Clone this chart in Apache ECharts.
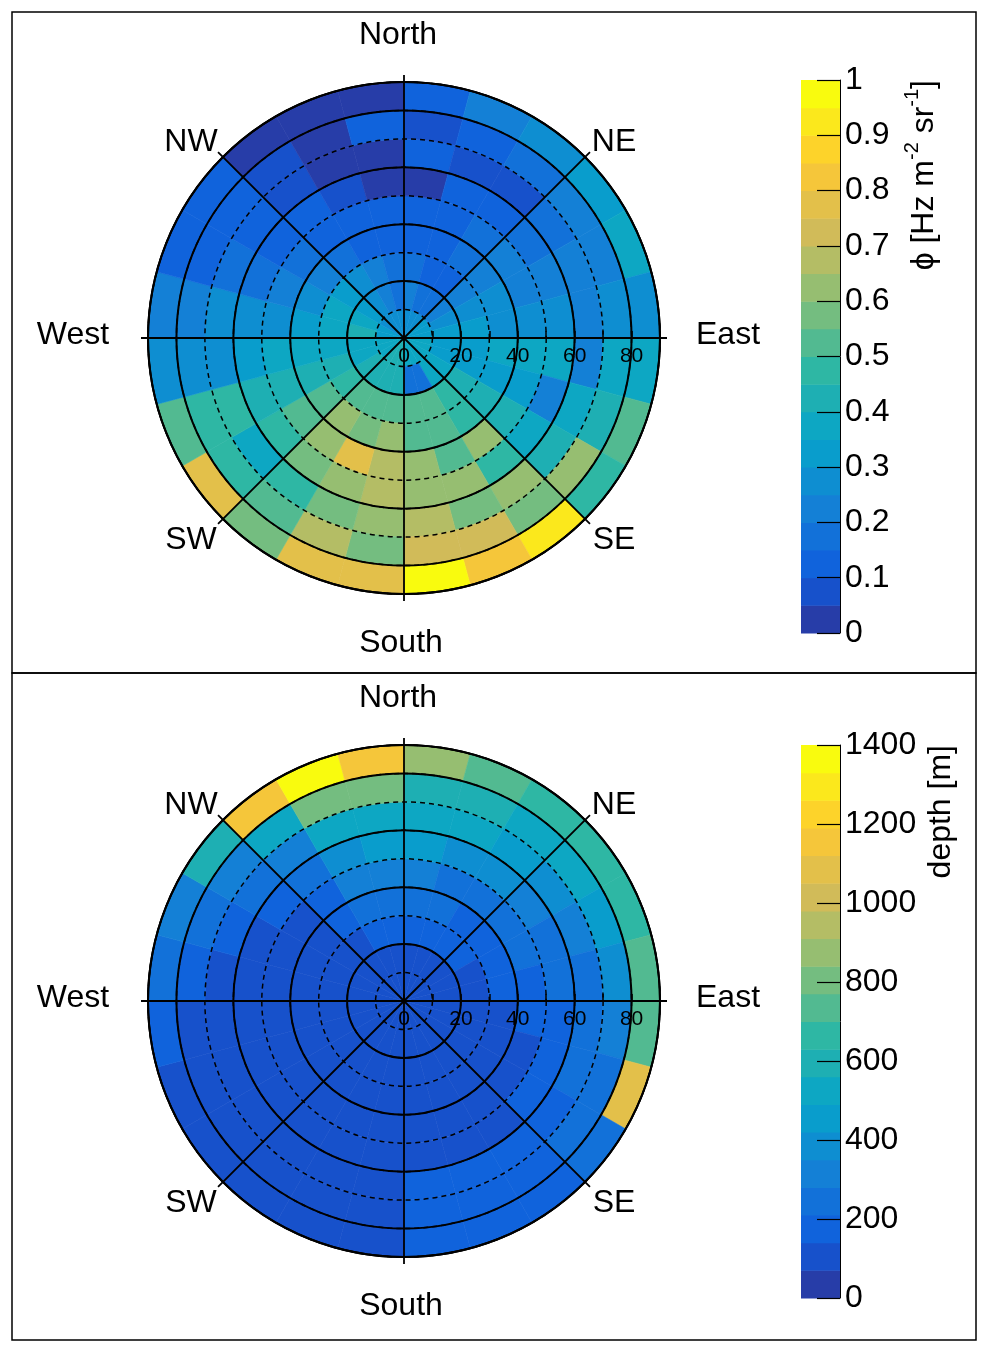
<!DOCTYPE html>
<html>
<head>
<meta charset="utf-8">
<title>Flux and depth polar maps</title>
<script src="https://cdn.jsdelivr.net/npm/echarts@6/dist/echarts.min.js"></script>
<style>
  html, body { margin: 0; padding: 0; background: #fff; }
  #chart { width: 988px; height: 1352px; }
</style>
</head>
<body>
<div id="chart"></div>
<script>
// zenith bins (lower edge, deg) and azimuth bins (15 deg, clockwise from North)
const zenithBins = [0, 10, 20, 30, 40, 50, 60, 70, 80]
const azimuthBins = ['0', '15', '30', '45', '60', '75', '90', '105', '120', '135', '150', '165',
  '180', '195', '210', '225', '240', '255', '270', '285', '300', '315', '330', '345']

// muon flux [Hz m-2 sr-1], one row per zenith bin, 24 azimuth bins each
const flux = [
  [0.27, 0.28, 0.27, 0.31, 0.32, 0.33, 0.36, 0.37, 0.38, 0.37, 0.36, 0.37, 0.41, 0.42, 0.41, 0.38, 0.37, 0.36, 0.32, 0.31, 0.28, 0.27, 0.26, 0.27],
  [0.22, 0.17, 0.18, 0.22, 0.27, 0.32, 0.33, 0.31, 0.37, 0.38, 0.16, 0.17, 0.42, 0.43, 0.41, 0.42, 0.37, 0.38, 0.41, 0.37, 0.32, 0.27, 0.22, 0.18],
  [0.17, 0.12, 0.13, 0.22, 0.27, 0.31, 0.32, 0.33, 0.42, 0.47, 0.52, 0.53, 0.52, 0.51, 0.52, 0.47, 0.42, 0.37, 0.38, 0.36, 0.32, 0.27, 0.23, 0.17],
  [0.12, 0.13, 0.17, 0.22, 0.27, 0.28, 0.37, 0.32, 0.42, 0.47, 0.52, 0.51, 0.62, 0.57, 0.61, 0.52, 0.42, 0.37, 0.32, 0.27, 0.22, 0.17, 0.13, 0.12],
  [0.12, 0.11, 0.17, 0.22, 0.23, 0.27, 0.37, 0.32, 0.42, 0.62, 0.52, 0.61, 0.67, 0.77, 0.62, 0.52, 0.42, 0.37, 0.27, 0.22, 0.17, 0.12, 0.11, 0.13],
  [0.04, 0.12, 0.13, 0.17, 0.22, 0.27, 0.37, 0.22, 0.38, 0.47, 0.62, 0.63, 0.67, 0.62, 0.57, 0.47, 0.42, 0.32, 0.27, 0.17, 0.12, 0.11, 0.08, 0.03],
  [0.12, 0.08, 0.07, 0.17, 0.22, 0.23, 0.22, 0.37, 0.42, 0.62, 0.57, 0.67, 0.62, 0.57, 0.47, 0.37, 0.47, 0.27, 0.27, 0.17, 0.12, 0.08, 0.03, 0.04],
  [0.08, 0.12, 0.17, 0.22, 0.21, 0.27, 0.37, 0.42, 0.62, 0.57, 0.74, 0.72, 0.57, 0.67, 0.52, 0.47, 0.46, 0.27, 0.22, 0.12, 0.13, 0.07, 0.03, 0.12],
  [0.12, 0.22, 0.27, 0.32, 0.37, 0.28, 0.37, 0.52, 0.47, 0.92, 0.82, 0.98, 0.77, 0.78, 0.57, 0.77, 0.52, 0.27, 0.22, 0.12, 0.11, 0.04, 0.03, 0.02]
]

// rock depth [m], same binning
const depth = [
  [105, 100, 110, 105, 100, 95, 100, 105, 100, 95, 100, 105, 100, 95, 100, 105, 100, 95, 100, 105, 110, 105, 110, 105],
  [110, 115, 110, 105, 100, 100, 95, 100, 100, 95, 100, 100, 95, 100, 95, 100, 95, 100, 100, 95, 105, 110, 115, 120],
  [175, 170, 160, 150, 135, 125, 110, 105, 100, 100, 105, 110, 100, 100, 95, 100, 95, 100, 105, 110, 120, 135, 160, 170],
  [245, 230, 200, 180, 170, 160, 130, 120, 110, 105, 110, 115, 105, 100, 100, 100, 95, 100, 110, 115, 125, 180, 230, 245],
  [315, 260, 250, 240, 230, 190, 170, 135, 120, 110, 110, 115, 105, 100, 100, 100, 100, 105, 110, 115, 130, 190, 300, 320],
  [455, 385, 380, 320, 250, 240, 180, 175, 160, 130, 125, 120, 110, 105, 100, 100, 105, 110, 115, 130, 170, 250, 390, 450],
  [525, 520, 455, 390, 320, 250, 240, 230, 180, 170, 165, 160, 120, 110, 105, 105, 110, 115, 125, 170, 240, 320, 530, 540],
  [595, 590, 540, 525, 460, 385, 320, 245, 240, 175, 175, 165, 125, 115, 110, 110, 120, 130, 170, 245, 320, 530, 810, 805],
  [875, 760, 670, 660, 650, 720, 735, 1085, 245, 200, 190, 180, 130, 120, 115, 120, 125, 190, 230, 310, 600, 1155, 1365, 1160]
]

// colour bar tick labels
const fluxTicks = [0, 0.1, 0.2, 0.3, 0.4, 0.5, 0.6, 0.7, 0.8, 0.9, 1]
const depthTicks = [0, 200, 400, 600, 800, 1000, 1200, 1400]

// ROOT kBird palette, 20 contour levels
const NLEV = 20
const birdStops = [0, 0.125, 0.25, 0.375, 0.5, 0.625, 0.75, 0.875, 1]
const birdR = [0.2082, 0.0592, 0.0780, 0.0232, 0.1802, 0.5301, 0.8186, 0.9956, 0.9764]
const birdG = [0.1664, 0.3599, 0.5041, 0.6419, 0.7178, 0.7492, 0.7328, 0.7862, 0.9832]
const birdB = [0.5293, 0.8684, 0.8385, 0.7914, 0.6425, 0.4662, 0.3499, 0.1968, 0.0539]

const birdColor = (t) => {
  let k = 0
  while (k < birdStops.length - 2 && t > birdStops[k + 1]) k++
  const f = (t - birdStops[k]) / (birdStops[k + 1] - birdStops[k])
  const c = (arr) => Math.round(255 * (arr[k] + f * (arr[k + 1] - arr[k])))
  return 'rgb(' + c(birdR) + ',' + c(birdG) + ',' + c(birdB) + ')'
}
const palette = []
for (let k = 0; k < NLEV; k++) {
  palette.push(birdColor(Math.floor((k + 0.99) * 255 / NLEV) / 254))
}

const levelPieces = (max) => palette.map((color, i) => ({
  gte: i * max / NLEV,
  lt: i === NLEV - 1 ? max * 10 : (i + 1) * max / NLEV,
  color: color
}))

const toCells = (rows) => {
  const out = []
  rows.forEach((row, i) => row.forEach((v, j) => out.push([zenithBins[i], j, v])))
  return out
}
const barCells = (max) => palette.map((c, i) => [i * max / NLEV, (i + 1) * max / NLEV, i])

// sector for one (zenith, azimuth) bin
const renderCell = (params, api) => {
  const cs = params.coordSys
  const r0 = api.value(0)
  const j = api.value(1)
  const pIn = api.coord([r0, j])
  const pOut = api.coord([r0 + 10, j])
  const rin = Math.hypot(pIn[0] - cs.cx, pIn[1] - cs.cy)
  const rout = Math.hypot(pOut[0] - cs.cx, pOut[1] - cs.cy)
  const mid = Math.atan2(pOut[1] - cs.cy, pOut[0] - cs.cx)
  const half = api.size([10, 1], [r0, j])[1] / 2
  const color = api.visual('color')
  return {
    type: 'sector',
    shape: { cx: cs.cx, cy: cs.cy, r0: rin, r: rout, startAngle: mid - half, endAngle: mid + half, clockwise: true },
    style: { fill: color, stroke: color, lineWidth: 0.6 }
  }
}

const renderBar = (params, api) => {
  const a = api.coord([0, api.value(1)])
  const b = api.coord([1, api.value(0)])
  return {
    type: 'rect',
    shape: { x: a[0], y: a[1], width: b[0] - a[0], height: b[1] - a[1] + 0.5 },
    style: { fill: palette[api.value(2)] }
  }
}

const FONT = '"Liberation Sans", Arial, Helvetica, sans-serif'
const centers = [[404, 338], [404, 1001]]
const R = 256

const polars = []
const angleAxes = []
const radiusAxes = []
centers.forEach((c, p) => {
  const base = p * 3
  polars.push({ center: c, radius: R }, { center: c, radius: R }, { center: c, radius: R + 7 })
  angleAxes.push(
    {
      polarIndex: base, type: 'category', data: azimuthBins, startAngle: 90, clockwise: true, boundaryGap: true, z: 10,
      axisLine: { show: true, lineStyle: { color: '#000', width: 2 } },
      axisTick: { show: false }, axisLabel: { show: false }, splitLine: { show: false }
    },
    {
      polarIndex: base + 1, type: 'value', min: 0, max: 360, startAngle: 0, z: 10,
      axisLine: { show: false }, axisTick: { show: false }, axisLabel: { show: false }, splitLine: { show: false }
    },
    {
      polarIndex: base + 2, type: 'value', min: 0, max: 360, interval: 45, startAngle: 90, z: 12,
      axisLine: { show: false }, axisTick: { show: false }, axisLabel: { show: false },
      splitLine: { show: true, lineStyle: { color: '#000', width: 1.8 } }
    }
  )
  radiusAxes.push(
    {
      polarIndex: base, type: 'value', min: 0, max: 90, interval: 20, z: 10,
      axisLine: { show: false }, axisTick: { show: false }, axisLabel: { show: false },
      splitLine: { show: true, lineStyle: { color: '#000', width: 2 } }
    },
    {
      polarIndex: base + 1, type: 'value', min: 0, max: 90, interval: 10, z: 11,
      axisLine: { show: false },
      axisTick: { show: true, length: 7, lineStyle: { color: '#000', width: 1.5 } },
      axisLabel: {
        show: true, fontSize: 21, color: '#000', fontFamily: FONT, margin: -8, verticalAlign: 'top',
        formatter: (v) => (v % 20 === 0 && v < 90 ? String(v) : '')
      },
      splitLine: { show: true, lineStyle: { color: '#000', width: 1.5, type: [5, 4] } }
    },
    { polarIndex: base + 2, type: 'value', min: 0, max: 90, show: false }
  )
})

// direction labels, offsets from each polar centre
const dirLabels = [
  ['North', -6, -303], ['South', -3, 305], ['West', -331, -3], ['East', 324, -3],
  ['NW', -213, -196], ['NE', 210, -196], ['SW', -213, 202], ['SE', 210, 202]
]

const graphics = [
  { type: 'rect', shape: { x: 12, y: 12, width: 964, height: 661 }, style: { fill: 'none', stroke: '#000', lineWidth: 1.5 }, z: 100 },
  { type: 'rect', shape: { x: 12, y: 673, width: 964, height: 667 }, style: { fill: 'none', stroke: '#000', lineWidth: 1.5 }, z: 100 },
  {
    type: 'text', x: 921, y: 80, rotation: Math.PI / 2, z: 100,
    style: {
      text: '{a|ϕ [Hz m}{s|-2}{a| sr}{s|-1}{a|]}', align: 'right', verticalAlign: 'middle',
      rich: {
        a: { fontSize: 32, fontFamily: FONT, fill: '#000', lineHeight: 38, verticalAlign: 'bottom' },
        s: { fontSize: 20, fontFamily: FONT, fill: '#000', lineHeight: 38, verticalAlign: 'top' }
      }
    }
  },
  {
    type: 'text', x: 941, y: 745, rotation: Math.PI / 2, z: 100,
    style: { text: 'depth [m]', align: 'right', verticalAlign: 'middle', fontSize: 32, fontFamily: FONT, fill: '#000' }
  }
]
centers.forEach((c) => {
  dirLabels.forEach(([t, dx, dy]) => {
    graphics.push({
      type: 'text', x: c[0] + dx, y: c[1] + dy, z: 100,
      style: { text: t, align: 'center', verticalAlign: 'middle', fontSize: 32, fontFamily: FONT, fill: '#000' }
    })
  })
})

const colorAxis = (gridIndex, max, ticks) => ({
  gridIndex: gridIndex, type: 'value', position: 'right', min: 0, max: max, interval: ticks[1] - ticks[0], z: 10,
  axisLine: { show: true, onZero: false, lineStyle: { color: '#000', width: 1 } },
  axisTick: { show: true, inside: true, length: 23, lineStyle: { color: '#000', width: 1.2 } },
  axisLabel: { show: true, fontSize: 32, color: '#000', fontFamily: FONT, margin: 5, formatter: (v) => String(v) },
  splitLine: { show: false }
})

const chart = echarts.init(document.getElementById('chart'), null, { renderer: 'canvas' })
chart.setOption({
  animation: false,
  backgroundColor: '#fff',
  textStyle: { fontFamily: FONT },
  polar: polars,
  angleAxis: angleAxes,
  radiusAxis: radiusAxes,
  grid: [
    { left: 801, top: 80, width: 39, height: 553 },
    { left: 801, top: 745, width: 39, height: 553 }
  ],
  xAxis: [
    { gridIndex: 0, type: 'value', min: 0, max: 1, show: false },
    { gridIndex: 1, type: 'value', min: 0, max: 1, show: false }
  ],
  yAxis: [colorAxis(0, 1, fluxTicks), colorAxis(1, 1400, depthTicks)],
  visualMap: [
    { type: 'piecewise', show: false, seriesIndex: 0, dimension: 2, pieces: levelPieces(1) },
    { type: 'piecewise', show: false, seriesIndex: 1, dimension: 2, pieces: levelPieces(1400) }
  ],
  series: [
    { type: 'custom', coordinateSystem: 'polar', polarIndex: 0, renderItem: renderCell, data: toCells(flux), z: 2 },
    { type: 'custom', coordinateSystem: 'polar', polarIndex: 3, renderItem: renderCell, data: toCells(depth), z: 2 },
    { type: 'custom', coordinateSystem: 'cartesian2d', xAxisIndex: 0, yAxisIndex: 0, renderItem: renderBar, data: barCells(1) },
    { type: 'custom', coordinateSystem: 'cartesian2d', xAxisIndex: 1, yAxisIndex: 1, renderItem: renderBar, data: barCells(1400) }
  ],
  graphic: graphics
})
</script>
</body>
</html>
